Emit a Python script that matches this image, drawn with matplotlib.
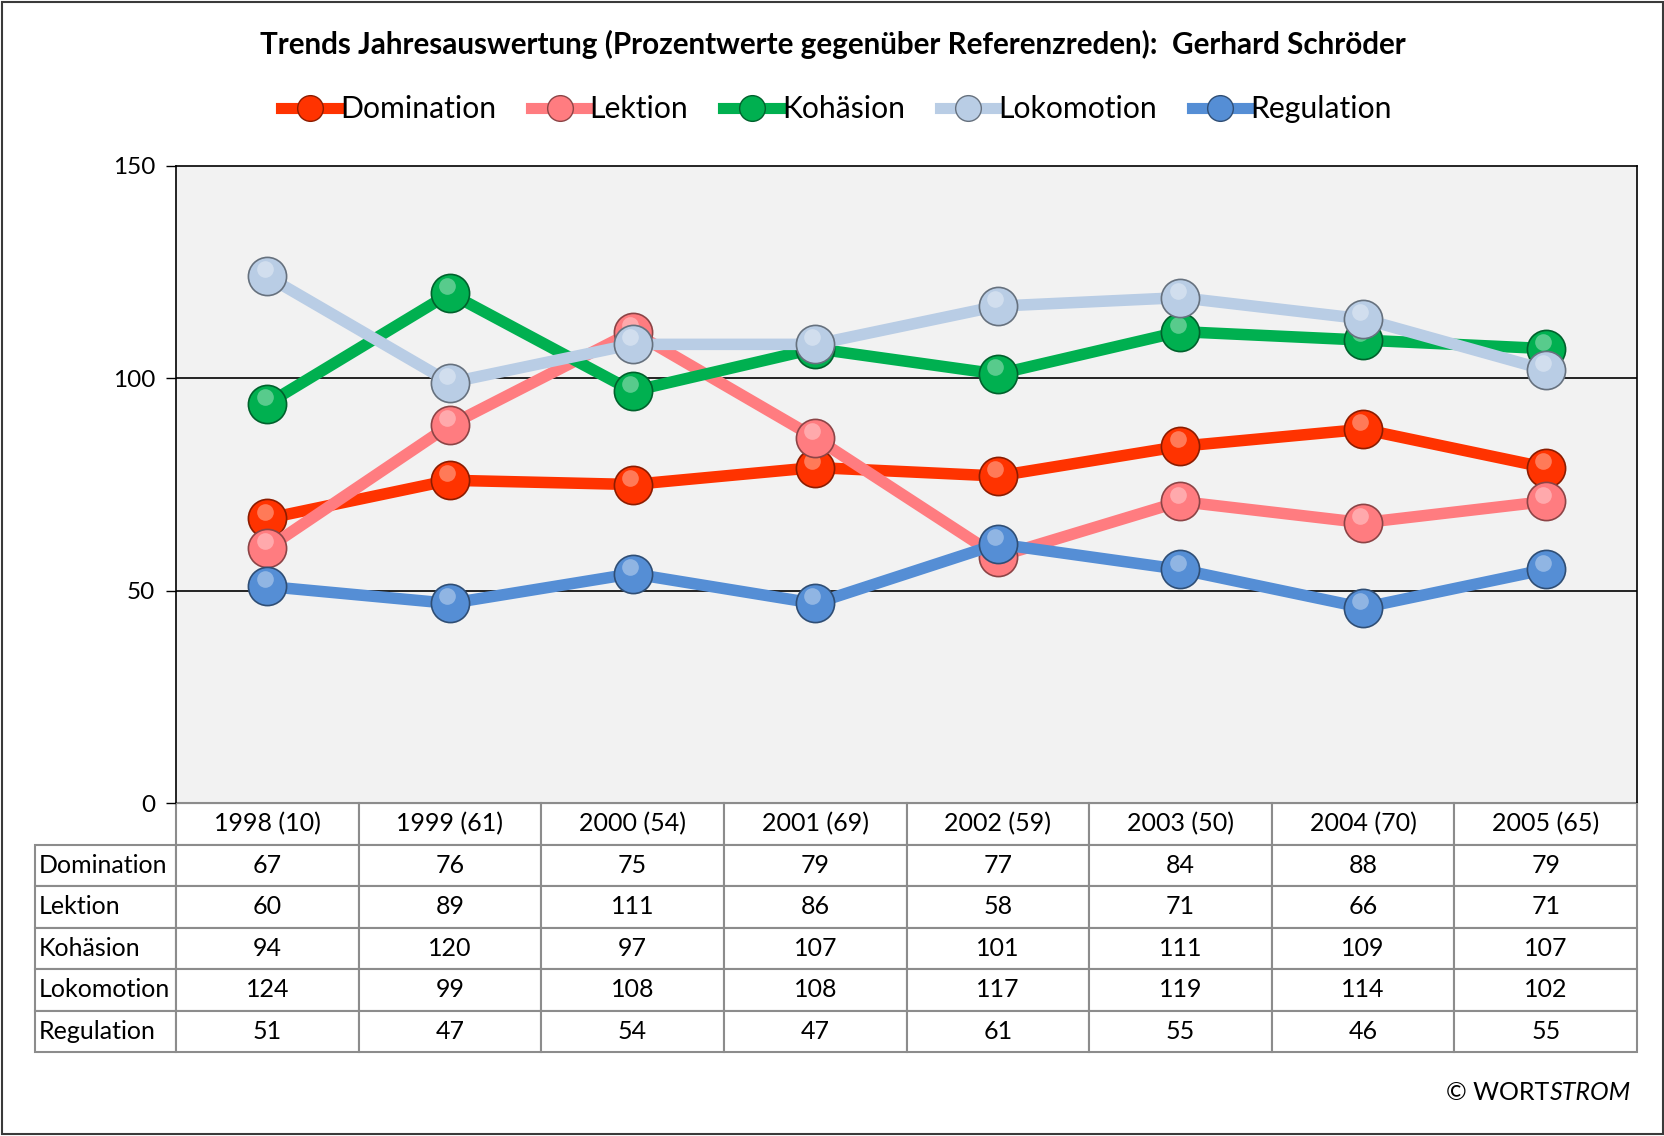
import numpy as np
import matplotlib.pyplot as plt
import matplotlib.colors as mcolors
from matplotlib.table import Table
from matplotlib.lines import Line2D
from matplotlib.patches import Rectangle
from matplotlib.transforms import ScaledTranslation

plt.rcParams['font.family'] = ['Lato', 'DejaVu Sans']

years = ['1998 (10)', '1999 (61)', '2000 (54)', '2001 (69)',
         '2002 (59)', '2003 (50)', '2004 (70)', '2005 (65)']
series = ['Domination', 'Lektion', 'Kohäsion', 'Lokomotion', 'Regulation']
domination = [67, 76, 75, 79, 77, 84, 88, 79]
lektion = [60, 89, 111, 86, 58, 71, 66, 71]
kohaesion = [94, 120, 97, 107, 101, 111, 109, 107]
lokomotion = [124, 99, 108, 108, 117, 119, 114, 102]
regulation = [51, 47, 54, 47, 61, 55, 46, 55]
values = [domination, lektion, kohaesion, lokomotion, regulation]
colors = ['#FF3300', '#FF7C80', '#00B050', '#B9CDE5', '#558ED5']

title = 'Trends Jahresauswertung (Prozentwerte gegenüber Referenzreden):  Gerhard Schröder'

fig = plt.figure(figsize=(16.65, 11.36), dpi=100)
ax = fig.add_axes([0.1057, 0.2931, 0.8775, 0.5608])
ax.set_facecolor('#F2F2F2')

x = np.arange(len(years))


def darker(c, f=0.55):
    r, g, b = mcolors.to_rgb(c)
    return (r * f, g * f, b * f)


# Lines with "sphere" markers
hl = ScaledTranslation(-2 / 72, 5 / 72, fig.dpi_scale_trans)
for name, vals, col in zip(series, values, colors):
    ax.plot(x, vals, color=col, lw=8.3, marker='o', ms=27.5,
            mfc=col, mec=darker(col), mew=1.2, solid_capstyle='butt', zorder=3)
    ax.plot(x, vals, ls='none', marker='o', ms=12, mfc='white', mec='none',
            alpha=0.35, transform=ax.transData + hl, zorder=3)

ax.set_xlim(-0.5, len(years) - 0.5)
ax.set_ylim(0, 150)
ax.set_yticks([0, 50, 100, 150])
ax.set_xticks([])
ax.tick_params(axis='y', labelsize=17.5, length=7, pad=8, width=1)
for yv in [50, 100]:
    ax.axhline(yv, color='black', lw=1.2, zorder=1)
for s in ['left', 'top', 'right']:
    ax.spines[s].set_color('black')
    ax.spines[s].set_linewidth(1.2)
ax.spines['bottom'].set_color('#8C8C8C')

# Data table below the plot
tbl = Table(ax, bbox=[-0.0965, -0.391, 1.0965, 0.391])
lab_w, col_w, row_h = 141, 182.6, 41.4
for j, yl in enumerate(years):
    c = tbl.add_cell(0, j + 1, col_w, row_h, text=yl, loc='center')
for i, (name, vals) in enumerate(zip(series, values)):
    c = tbl.add_cell(i + 1, 0, lab_w, row_h, text=name, loc='left')
    c.PAD = 0.03
    for j, v in enumerate(vals):
        tbl.add_cell(i + 1, j + 1, col_w, row_h, text=str(v), loc='center')
tbl.auto_set_font_size(False)
tbl.set_fontsize(18)
for cell in tbl.get_celld().values():
    cell.set_edgecolor('#8C8C8C')
    cell.set_linewidth(1.5)
    cell.set_facecolor('white')
ax.add_table(tbl)

# Legend
handles = [Line2D([0], [0], color=c, lw=8, marker='o', ms=18.5,
                  mfc=c, mec=darker(c), mew=1) for c in colors]
fig.legend(handles, series, loc='center', bbox_to_anchor=(0.5025, 0.9037),
           ncol=5, frameon=False, fontsize=21.7, handlelength=1.9,
           handletextpad=0.05, columnspacing=1.15)

fig.text(0.5, 0.961, title, ha='center', va='center', fontsize=21.3,
         fontweight='bold')

# Copyright
strom = fig.text(0.9795, 0.032, 'STROM', ha='right', va='baseline',
                 fontsize=18, style='italic')
ax.annotate('© WORT', xy=(0, 0), xycoords=strom, ha='right', va='bottom',
            fontsize=18, annotation_clip=False)

fig.patches.append(Rectangle((0.0012, 0.0018), 0.9976, 0.9964,
                             transform=fig.transFigure, fill=False,
                             ec='#3A3A3A', lw=1.5))

fig.savefig('out.png', dpi=100)
